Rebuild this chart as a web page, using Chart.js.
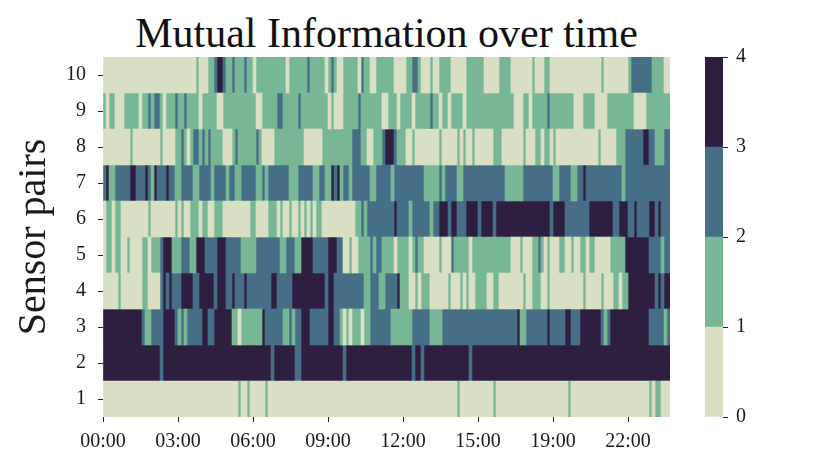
<!DOCTYPE html>
<html>
<head>
<meta charset="utf-8">
<script src="https://cdn.jsdelivr.net/npm/chart.js@4.4.0/dist/chart.umd.min.js"></script>
<style>
  body { margin: 0; background: #fff; }
  #wrap { position: relative; width: 830px; height: 475px; }
  #title {
    position: absolute; left: 103px; width: 567px; top: 12px;
    text-align: center; font-family: 'Liberation Serif', serif;
    font-size: 42px; line-height: 42px; color: #111; white-space: nowrap;
  }
  canvas { position: absolute; top: 0; }
</style>
</head>
<body>
<div id="wrap">
  <div id="title">Mutual Information over time</div>
  <canvas id="heatmap" width="700" height="475" style="left:0"></canvas>
  <canvas id="colorbar" width="140" height="475" style="left:690px"></canvas>
</div>
<script>
// sensor pair rows, bottom to top
const sensorPairs = ['1', '2', '3', '4', '5', '6', '7', '8', '9', '10'];
const xTickLabels = ['00:00', '03:00', '06:00', '09:00', '12:00', '15:00', '19:00', '22:00'];
const TICK_STEP = 25; // samples between x ticks
const colorbarTicks = [0, 1, 2, 3, 4];
const levelColors = ['#d8dfc2', '#78b795', '#466e87', '#2e1e3f'];

// MI level (0-3) per time sample, one string per sensor pair
const pair1 = `00000 00000 00000 00000 00000 00000 0
  00000 00000 00001 00100 00010 00000 00
  00000 00000 00000 00000 00000 00000 00
  00000 00000 00000 00000 00010 00000 00
  00010 00000 00000 00000 00000 00010 00
  00000 00000 00000 00000 00010 11000`;
const pair2 = `33333 33333 33333 33332 33333 33333 3
  33333 33333 33333 33333 33333 23333 33
  32233 33333 33333 33233 33333 33333 33
  33333 33323 32333 33333 33333 33233 33
  33333 33333 33333 33333 33333 33333 33
  33333 33333 33333 33333 33333 33333`;
const pair3 = `33333 33333 33321 12222 33332 12122 2
  22332 23333 33110 11111 11322 22221 12
  12233 32222 22332 21010 11101 12222 22
  21111 11122 22221 11122 22222 22222 22
  22222 22222 23112 22222 23222 22332 22
  33333 33212 33333 33333 33322 22212`;
const pair4 = `00000 10000 00011 00002 32322 23333 2
  23333 32333 22322 23222 22222 33222 22
  33333 33333 32332 22222 22221 12221 12
  22231 11001 01110 00000 10001 01001 11
  10011 00000 00010 01110 01000 00000 00
  01000 00100 01101 13333 33333 23233`;
const pair5 = `01101 10010 00011 01112 33311 12221 1
  33322 22333 22222 11111 22222 22211 22
  21133 33222 22333 22001 00111 12122 11
  11011 11012 11000 00100 02111 11011 11
  11111 11110 00100 01121 01000 11001 00
  11011 00000 11111 33333 33322 22122`;
const pair6 = `01101 10000 00000 10000 00001 01001 1
  10110 01110 00000 00011 00001 11010 01
  00101 01011 00000 00000 01121 22222 22
  22322 22122 22221 22333 23322 23333 23
  33323 33333 33333 33333 33233 33222 22
  22233 33333 32233 32232 22233 23222`;
const pair7 = `23112 22223 32223 21322 23221 12222 1
  12222 12222 12211 22222 11212 22222 21
  11222 22112 21132 31221 22222 21122 22
  21222 22222 22111 11212 22211 22222 22
  22222 22111 11122 22222 22211 22221 12
  23222 22222 22221 22222 22222 22222`;
const pair8 = `00000 00001 00000 00001 00001 12101 2
  21212 11110 00121 11111 21000 01111 11
  11110 00000 11111 11111 22211 00111 23
  33211 10010 00000 00100 00010 10010 00
  00011 10000 00010 00110 11010 00000 00
  00000 01000 00111 22222 23322 11122`;
const pair9 = `10110 00111 11011 21221 01112 11211 1
  10111 11001 11111 11111 00111 11221 11
  11211 11111 11010 00111 11211 11111 00
  11101 11101 11112 11011 01111 01111 11
  11111 11111 00011 01111 12111 11111 00
  01111 00001 11111 11100 00111 11111`;
const pair10 = `00000 00000 00000 00000 00000 00000 0
  10001 12332 11211 12110 11111 11111 01
  11111 21111 10121 00111 11021 10011 11
  11000 01122 10001 00111 10000 01111 11
  00000 11110 00000 01000 11000 00000 00
  00000 00100 00000 01222 22221 11100`;

document.addEventListener('DOMContentLoaded', function() {
    Chart.defaults.font.family = "'Liberation Serif', serif";
    Chart.defaults.color = '#1a1a1a';

    const rows = [pair1, pair2, pair3, pair4, pair5, pair6, pair7, pair8, pair9, pair10]
        .map(s => s.replace(/\s+/g, ''));
    const COLS = Math.max(...rows.map(r => r.length));

    // run-length segments per level
    const segments = levelColors.map(() => []);
    rows.forEach((str, r) => {
        let start = 0;
        for (let i = 1; i <= str.length; i++) {
            if (i === str.length || str[i] !== str[start]) {
                segments[+str[start]].push({ y: sensorPairs[r], x: [start, i] });
                start = i;
            }
        }
    });

    // Heatmap
    new Chart(document.getElementById('heatmap'), {
        type: 'bar',
        data: {
            datasets: levelColors.map((c, v) => ({
                label: String(v),
                data: segments[v],
                backgroundColor: c,
                borderWidth: 0,
                grouped: false,
                barPercentage: 1,
                categoryPercentage: 1
            }))
        },
        options: {
            indexAxis: 'y',
            responsive: false,
            animation: false,
            devicePixelRatio: 1,
            layout: { padding: { top: 57, right: 30, left: 0, bottom: 0 } },
            plugins: {
                legend: { display: false },
                tooltip: { enabled: false }
            },
            scales: {
                x: {
                    type: 'linear',
                    min: 0,
                    max: COLS,
                    afterBuildTicks: s => { s.ticks = xTickLabels.map((_, i) => ({ value: i * TICK_STEP })); },
                    afterFit: s => { s.height = 58; },
                    ticks: {
                        callback: v => xTickLabels[Math.round(v / TICK_STEP)],
                        font: { size: 20 },
                        padding: 8,
                        maxRotation: 0,
                        autoSkip: false
                    },
                    grid: { drawOnChartArea: false, tickLength: 5, color: '#222' },
                    border: { display: false }
                },
                y: {
                    type: 'category',
                    labels: sensorPairs.slice().reverse(),
                    offset: true,
                    afterFit: s => { s.width = 103; },
                    ticks: { font: { size: 20 }, padding: 12 },
                    grid: { drawOnChartArea: false, offset: false, tickLength: 5, color: '#222' },
                    border: { display: false },
                    title: {
                        display: true,
                        text: 'Sensor pairs',
                        font: { size: 40 },
                        padding: { top: 10, bottom: 0 }
                    }
                }
            }
        }
    });

    // Colorbar
    new Chart(document.getElementById('colorbar'), {
        type: 'bar',
        data: {
            labels: [''],
            datasets: levelColors.map(c => ({
                data: [1],
                backgroundColor: c,
                borderWidth: 0,
                barPercentage: 1,
                categoryPercentage: 1
            }))
        },
        options: {
            responsive: false,
            animation: false,
            devicePixelRatio: 1,
            layout: { padding: { top: 57, bottom: 58, left: 15, right: 0 } },
            plugins: {
                legend: { display: false },
                tooltip: { enabled: false }
            },
            scales: {
                x: { display: false, stacked: true },
                y: {
                    stacked: true,
                    position: 'right',
                    min: colorbarTicks[0],
                    max: colorbarTicks[colorbarTicks.length - 1],
                    afterFit: s => { s.width = 107; },
                    afterBuildTicks: s => { s.ticks = colorbarTicks.map(v => ({ value: v })); },
                    ticks: { font: { size: 20 }, padding: 8 },
                    grid: { drawOnChartArea: false, tickLength: 5, color: '#222' },
                    border: { display: false }
                }
            }
        }
    });
});
</script>
</body>
</html>
